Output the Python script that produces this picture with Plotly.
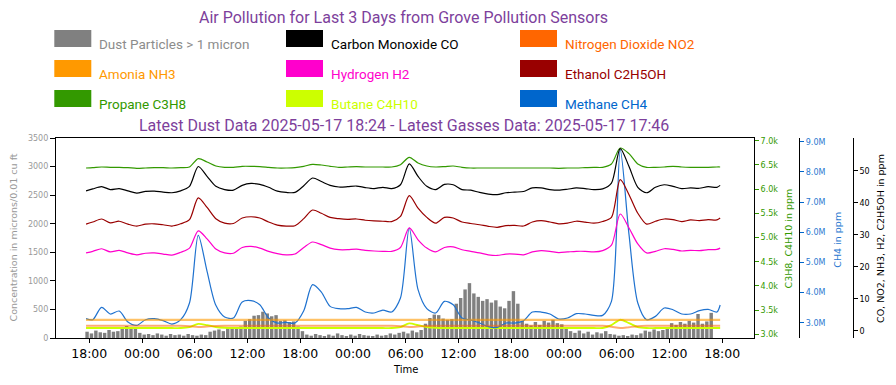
import datetime as dt
import plotly.graph_objects as go

# ---------------- data ----------------
dust_start = dt.datetime(2025, 5, 14, 17, 45)
dust_step_min = 30
dust_particles = [
    110, 80, 130, 100, 90, 140, 110, 120, 170, 210, 190, 160,
    90, 60, 70, 50, 80, 60, 40, 70, 50, 60, 40, 70,
    50, 40, 60, 50, 110, 130, 150, 120, 170, 190, 160, 200,
    300, 330, 390, 400, 460, 430, 380, 400, 300, 310, 280, 290,
    200, 120, 60, 40, 70, 50, 30, 60, 40, 80, 50, 30,
    60, 40, 70, 50, 40, 30, 60, 40, 50, 80, 60, 90,
    110, 80, 130, 100, 140, 250, 350, 410, 400, 340, 320, 330,
    600, 700, 850, 960, 780, 720, 650, 680, 620, 660, 550, 520,
    650, 820, 600, 300, 250, 220, 280, 230, 300, 270, 320, 260,
    240, 180, 120, 90, 130, 80, 110, 60, 100, 80, 120, 70,
    60, 40, 50, 30, 60, 50, 80, 130, 110, 150, 120, 140,
    170, 260, 230, 280, 250, 300, 270, 420, 250, 290, 440,
]
dust_times = [dust_start + dt.timedelta(minutes=dust_step_min * i) for i in range(len(dust_particles))]

gas_first = dt.datetime(2025, 5, 14, 17, 38)
gas_grid_start = dt.datetime(2025, 5, 14, 18, 24)
gas_last = dt.datetime(2025, 5, 17, 17, 46)
gas_times = [gas_first] + [gas_grid_start + dt.timedelta(hours=k) for k in range(72)] + [gas_last]

carbon_monoxide = [43.8,
    44.4, 45.1, 44.2, 44.5, 43.8, 43.1, 43.6, 43.7, 43.4, 43.2, 43.8, 45.2, 51.4, 48.3, 45.2, 44.2, 44.0, 45.5,
    46.1, 45.8, 44.9, 43.7, 43.3, 43.3, 45.4, 47.8, 46.7, 45.5, 45.0, 45.1, 45.3, 44.8, 44.5, 44.9, 44.5, 45.7, 52.2,
    48.3, 45.2, 44.2, 45.8, 45.7, 44.2, 44.0, 43.3, 42.8, 42.6, 43.2, 43.4, 43.6, 44.7, 44.7, 44.2, 44.0, 44.3, 44.7,
    44.5, 44.2, 44.4, 46.2, 57.0, 51.4, 44.9, 43.2, 44.9, 45.7, 45.2, 44.5, 44.7, 44.6, 45.1, 44.9,
    45.5]
ethanol = [33.4,
    34.05, 35.0, 33.8, 34.3, 33.4, 32.8, 33.4, 33.5, 33.2, 32.8, 33.5, 34.8, 41.6, 38.6, 35.1, 33.7, 33.6, 35.3,
    35.7, 35.3, 34.05, 33.1, 32.8, 32.9, 35.1, 37.8, 36.8, 35.5, 35.1, 34.9, 35.0, 34.6, 34.4, 34.3, 34.2, 35.8, 42.3,
    38.4, 35.5, 33.7, 35.5, 35.3, 34.05, 33.6, 33.2, 32.7, 32.4, 32.9, 33.0, 32.8, 34.05, 34.5, 34.05, 33.5, 33.7, 34.3,
    34.05, 33.7, 34.2, 35.5, 47.3, 42.6, 36.8, 33.4, 34.3, 35.0, 34.8, 34.2, 34.7, 34.5, 34.8, 34.7,
    35.3]
hydrogen = [24.4,
    24.9, 25.7, 24.7, 25.2, 24.4, 23.8, 24.3, 24.4, 24.05, 23.7, 24.6, 25.9, 31.3, 28.8, 25.6, 24.4, 24.3, 26.1,
    26.45, 25.9, 24.9, 24.2, 23.8, 24.05, 26.1, 27.8, 27.0, 25.9, 25.4, 25.4, 25.6, 25.2, 25.0, 24.9, 24.9, 26.1, 32.2,
    28.5, 25.9, 24.7, 26.1, 26.3, 25.4, 24.9, 24.4, 23.8, 23.6, 24.05, 24.05, 23.8, 24.7, 25.1, 24.9, 24.5, 24.7, 24.9,
    24.9, 24.7, 25.1, 26.8, 36.55, 32.2, 27.2, 24.4, 24.9, 25.7, 25.5, 25.0, 25.2, 25.1, 25.4, 25.5,
    25.9]
propane = [6436,
    6443, 6457, 6450, 6450, 6443, 6429, 6436, 6443, 6443, 6436, 6443, 6457, 6629, 6560, 6477, 6450, 6450, 6471,
    6471, 6464, 6450, 6436, 6436, 6443, 6471, 6512, 6498, 6471, 6450, 6457, 6464, 6457, 6457, 6457, 6457, 6505, 6657,
    6539, 6477, 6457, 6464, 6477, 6450, 6436, 6436, 6436, 6436, 6436, 6436, 6436, 6436, 6436, 6436, 6430, 6436, 6436,
    6443, 6450, 6450, 6519, 6849, 6732, 6519, 6450, 6450, 6457, 6471, 6457, 6450, 6450, 6450, 6457,
    6457]
methane_millions = [3.133,
    3.100, 3.509, 3.288, 3.387, 3.023, 2.912, 3.100, 3.133, 3.067, 2.956, 3.100, 3.652, 5.896, 4.702, 3.575, 3.188, 3.155, 3.686,
    3.730, 3.597, 3.155, 2.989, 3.012, 2.989, 3.398, 4.260, 4.017, 3.542, 3.465, 3.465, 3.509, 3.354, 3.321, 3.420, 3.354, 3.818, 6.139,
    4.094, 3.465, 3.321, 3.708, 3.597, 3.155, 3.089, 2.989, 2.868, 2.846, 2.989, 2.989, 3.067, 3.354, 3.354, 3.288, 3.122, 3.155, 3.299,
    3.288, 3.243, 3.243, 3.708, 8.735, 5.918, 3.652, 3.100, 3.210, 3.487, 3.431, 3.288, 3.288, 3.398, 3.442, 3.354,
    3.586]
butane = [3130,
    3130, 3130, 3130, 3130, 3130, 3130, 3130, 3130, 3130, 3130, 3130, 3150, 3215, 3190, 3150, 3135, 3130, 3130,
    3130, 3130, 3130, 3130, 3130, 3130, 3130, 3130, 3130, 3130, 3130, 3130, 3130, 3130, 3130, 3130, 3130, 3150, 3225,
    3190, 3150, 3135, 3130, 3130, 3130, 3130, 3130, 3130, 3130, 3130, 3130, 3130, 3130, 3130, 3130, 3130, 3130, 3130,
    3130, 3130, 3130, 3190, 3300, 3230, 3150, 3130, 3130, 3130, 3130, 3130, 3130, 3130, 3130, 3130,
    3130]
nitrogen_dioxide = [1.6,
    1.6, 1.6, 1.6, 1.6, 1.6, 1.6, 1.6, 1.6, 1.6, 1.6, 1.6, 1.5, 1.25, 1.4, 1.55, 1.6, 1.6, 1.6,
    1.6, 1.6, 1.6, 1.6, 1.6, 1.6, 1.6, 1.6, 1.6, 1.6, 1.6, 1.6, 1.6, 1.6, 1.6, 1.6, 1.6, 1.5, 1.25,
    1.4, 1.55, 1.6, 1.6, 1.6, 1.6, 1.6, 1.6, 1.6, 1.6, 1.6, 1.6, 1.6, 1.6, 1.6, 1.6, 1.6, 1.6, 1.6,
    1.6, 1.6, 1.6, 1.3, 0.9, 1.2, 1.5, 1.6, 1.6, 1.6, 1.6, 1.6, 1.6, 1.6, 1.6, 1.6,
    1.6]
ammonia_times = ["2025-05-14 17:38", "2025-05-15 06:00", "2025-05-15 18:00", "2025-05-16 06:00",
                 "2025-05-16 18:00", "2025-05-17 06:00", "2025-05-17 17:46"]
ammonia = [3.5, 3.5, 3.5, 3.5, 3.5, 3.5, 3.5]

for name, s in [("co", carbon_monoxide), ("eth", ethanol), ("h2", hydrogen), ("c3", propane),
                ("ch4", methane_millions), ("c4", butane), ("no2", nitrogen_dioxide)]:
    assert len(s) == len(gas_times), (name, len(s))

legend_items = [
    ("Dust Particles > 1 micron", "#808080", "#8c8c8c"),
    ("Carbon Monoxide CO", "#000000", "#000000"),
    ("Nitrogen Dioxide NO2", "#ff6600", "#ff6600"),
    ("Amonia NH3", "#ff9900", "#ff9900"),
    ("Hydrogen H2", "#ff00cc", "#ff00cc"),
    ("Ethanol C2H5OH", "#990000", "#990000"),
    ("Propane C3H8", "#339900", "#339900"),
    ("Butane C4H10", "#ccff00", "#ccff00"),
    ("Methane CH4", "#0066cc", "#0066cc"),
]
propane_ticks = [3000, 3500, 4000, 4500, 5000, 5500, 6000, 6500, 7000]
gas_ticks = [0, 10, 20, 30, 40, 50]
title_text = "Air Pollution for Last 3 Days from Grove Pollution Sensors"
subtitle_text = "Latest Dust Data 2025-05-17 18:24 - Latest Gasses Data: 2025-05-17 17:46"

# ---------------- layout helpers (pixel -> paper) ----------------
W, H = 896, 385
L, R_EDGE, T, B = 56, 754, 138, 338


def px(x):
    return (x - L) / (W - L)


def py(y):
    return (B - y) / (B - T)


TICKFONT = "DejaVu Sans"
TITLEFONT = "Roboto"
PURPLE = "#7d3f9c"

fig = go.Figure()

fig.add_trace(go.Bar(x=dust_times, y=dust_particles, yaxis="y",
                     marker=dict(color="#808080", line=dict(width=0)),
                     width=dust_step_min * 60 * 1000 * 0.78, name="Dust"))

fig.add_trace(go.Scatter(x=ammonia_times, y=ammonia, yaxis="y4", mode="lines",
                         line=dict(color="rgba(255,153,0,0.6)", width=2.2), name="NH3"))
fig.add_trace(go.Scatter(x=gas_times, y=nitrogen_dioxide, yaxis="y4", mode="lines",
                         line=dict(color="rgba(255,102,0,0.55)", width=2, shape="spline", smoothing=0.8), name="NO2"))

fig.add_trace(go.Scatter(x=gas_times, y=butane, yaxis="y2", mode="lines",
                         line=dict(color="#ccff00", width=1.8, shape="spline", smoothing=0.8), name="C4H10"))
fig.add_trace(go.Scatter(x=gas_times, y=propane, yaxis="y2", mode="lines",
                         line=dict(color="#339900", width=1.2, shape="spline", smoothing=0.8), name="C3H8"))

fig.add_trace(go.Scatter(x=gas_times, y=[v * 1e6 for v in methane_millions], yaxis="y3", mode="lines",
                         line=dict(color="#1f72cf", width=1.2, shape="spline", smoothing=0.8), name="CH4"))

fig.add_trace(go.Scatter(x=gas_times, y=hydrogen, yaxis="y4", mode="lines",
                         line=dict(color="#ff00cc", width=1.2, shape="spline", smoothing=0.8), name="H2"))
fig.add_trace(go.Scatter(x=gas_times, y=ethanol, yaxis="y4", mode="lines",
                         line=dict(color="#990000", width=1.2, shape="spline", smoothing=0.8), name="C2H5OH"))
fig.add_trace(go.Scatter(x=gas_times, y=carbon_monoxide, yaxis="y4", mode="lines",
                         line=dict(color="#000000", width=1.2, shape="spline", smoothing=0.8), name="CO"))

fig.update_layout(
    width=W, height=H,
    margin=dict(l=L, r=0, t=T, b=H - B, pad=0, autoexpand=False),
    paper_bgcolor="white", plot_bgcolor="white",
    showlegend=False,
    xaxis=dict(domain=[0, px(R_EDGE)], type="date", automargin=False,
               range=["2025-05-14 14:13", "2025-05-17 21:37"],
               tick0="2025-05-14 00:00", dtick=6 * 3600 * 1000, tickformat="%H:%M",
               ticks="outside", ticklen=4, tickcolor="black", tickwidth=1,
               tickfont=dict(family=TICKFONT, size=12.5, color="black"),
               showline=True, linecolor="black", linewidth=1.3, mirror=True,
               showgrid=False, zeroline=False),
    yaxis=dict(range=[0, 3500], dtick=500, tick0=0, automargin=False,
               ticks="outside", ticklen=5, tickcolor="black",
               tickfont=dict(family=TICKFONT, size=8, color="#999999"),
               showline=True, linecolor="black", linewidth=1.3, mirror=True,
               showgrid=False, zeroline=False),
    yaxis2=dict(overlaying="y", side="right", anchor="x", automargin=False,
                range=[2923.6, 7055.8], tickvals=propane_ticks,
                tickformat=".2s",
                ticks="outside", ticklen=4, tickcolor="#339900",
                tickfont=dict(family=TICKFONT, size=8, color="#339900"),
                showline=False, showgrid=False, zeroline=False),
    yaxis3=dict(overlaying="y", side="right", anchor="free", position=px(799), automargin=False,
                range=[2.493e6, 9.123e6], dtick=1e6, tick0=0, tickformat=".2s",
                ticks="outside", ticklen=4, tickcolor="#0066cc",
                tickfont=dict(family=TICKFONT, size=8, color="#2a78d0"),
                showline=True, linecolor="black", linewidth=1.3,
                showgrid=False, zeroline=False),
    yaxis4=dict(overlaying="y", side="right", anchor="free", position=px(852.7), automargin=False,
                range=[-2.19, 60.31], tickvals=gas_ticks,
                ticks="outside", ticklen=4, tickcolor="black",
                tickfont=dict(family=TICKFONT, size=8, color="black"),
                showline=True, linecolor="black", linewidth=1.3,
                showgrid=False, zeroline=False),
)

ann = []
ann.append(dict(text=title_text, x=px(403.5), y=py(17), xref="paper", yref="paper",
                showarrow=False, xanchor="center", yanchor="middle",
                font=dict(family=TITLEFONT, size=16, color=PURPLE)))
ann.append(dict(text=subtitle_text, x=px(403.5), y=py(125), xref="paper", yref="paper",
                showarrow=False, xanchor="center", yanchor="middle",
                font=dict(family=TITLEFONT, size=16, color=PURPLE)))

col_x = [54.3, 286.0, 520.0]
row_y = [30.0, 60.0, 90.0]
shapes = []
for i, (label, swatch, textcol) in enumerate(legend_items):
    r, c = divmod(i, 3)
    x0 = col_x[c]
    y0 = row_y[r]
    shapes.append(dict(type="rect", xref="paper", yref="paper",
                       x0=px(x0), x1=px(x0 + 37), y0=py(y0 + 17), y1=py(y0),
                       fillcolor=swatch, line=dict(width=0)))
    ann.append(dict(text=label, x=px(x0 + 42.5), y=py(y0 + 14), xref="paper", yref="paper",
                    showarrow=False, xanchor="left", yanchor="middle",
                    font=dict(family=TITLEFONT, size=13.5, color=textcol)))

ann.append(dict(text="Concentration in microns/0.01 cu ft", x=px(12.5), y=py(238), xref="paper", yref="paper",
                showarrow=False, textangle=-90, xanchor="center", yanchor="middle",
                font=dict(family=TICKFONT, size=9.5, color="#999999")))
ann.append(dict(text="C3H8, C4H10 in ppm", x=px(787.5), y=py(239), xref="paper", yref="paper",
                showarrow=False, textangle=-90, xanchor="center", yanchor="middle",
                font=dict(family=TICKFONT, size=9.5, color="#339900")))
ann.append(dict(text="CH4 in ppm", x=px(836.7), y=py(240), xref="paper", yref="paper",
                showarrow=False, textangle=-90, xanchor="center", yanchor="middle",
                font=dict(family=TICKFONT, size=9.5, color="#2a78d0")))
ann.append(dict(text="CO, NO2, NH3, H2, C2H5OH in ppm", x=px(880), y=py(239), xref="paper", yref="paper",
                showarrow=False, textangle=-90, xanchor="center", yanchor="middle",
                font=dict(family=TICKFONT, size=9.5, color="black")))
ann.append(dict(text="Time", x=px(405), y=py(369.5), xref="paper", yref="paper",
                showarrow=False, xanchor="center", yanchor="middle",
                font=dict(family=TICKFONT, size=10, color="black")))

fig.update_layout(annotations=ann, shapes=shapes)

fig.write_html("out.html", config={"displayModeBar": False},
               post_script="document.body.style.margin='0';document.body.style.overflow='hidden';")
